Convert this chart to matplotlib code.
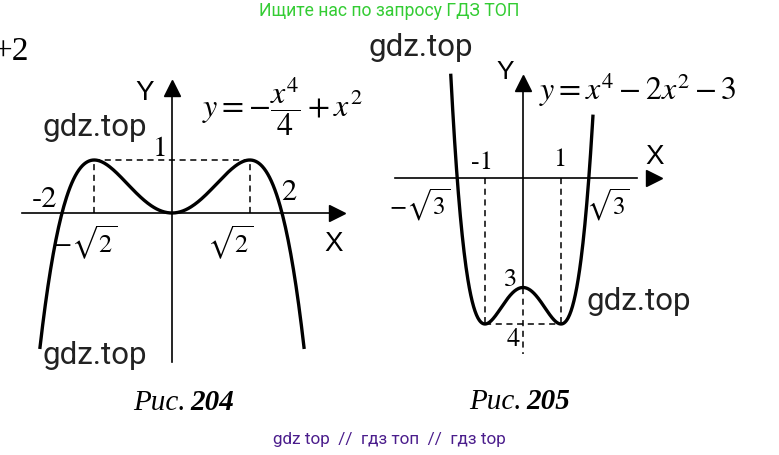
import numpy as np
import matplotlib.pyplot as plt

W, H = 779, 456

# left graph: y = a4*x^4 + a2*x^2 + a0
left_coef = (-0.25, 1.0, 0.0)
left_xrange = (-2.4, 2.4)
left_points_x = [-np.sqrt(2), np.sqrt(2)]     # maxima
left_points_y = [1, 1]

# right graph: y = x^4 - 2x^2 - 3
right_coef = (1.0, -2.0, -3.0)
right_xrange = (-1.9, 1.84)
right_points_x = [-1, 1]                       # minima
right_points_y = [-4, -4]

plt.rcParams['mathtext.fontset'] = 'stix'
fig = plt.figure(figsize=(W / 100, H / 100), dpi=100)


def panel(ox, oy, sx, sy):
    # full-figure axes whose origin sits at pixel (ox, oy)
    ax = fig.add_axes([0, 0, 1, 1])
    ax.set_xlim(-ox / sx, (W - ox) / sx)
    ax.set_ylim((oy - H) / sy, oy / sy)
    ax.axis('off')
    ax.patch.set_alpha(0)
    return ax


def quartic(coef, x):
    return coef[0] * x**4 + coef[1] * x**2 + coef[2]


serif = dict(family='STIXGeneral', color='black')
sans = dict(family='Liberation Sans', color='black')
dash = dict(color='black', lw=1.1, ls=(0, (4, 3)))

# ---- Рис. 204 ----
ax1 = panel(172, 214, 55, 53)
ax1.plot([-2.73, 2.95], [0, 0], color='black', lw=1.2)
ax1.plot([0, 0], [-2.81, 2.3], color='black', lw=1.2)
ax1.plot([3.0], [0], marker='>', ms=12, color='black')
ax1.plot([0], [2.35], marker='^', ms=12, color='black')
x = np.linspace(*left_xrange, 300)
ax1.plot(x, quartic(left_coef, x), color='black', lw=2.4)
ax1.plot([left_points_x[0], left_points_x[1]], [1, 1], **dash)
for px_, py_ in zip(left_points_x, left_points_y):
    ax1.plot([px_, px_], [0, py_], **dash)
ax1.text(-0.22, 1.22, '1', fontsize=21, ha='center', va='center', **serif)
ax1.text(-2.31, 0.26, '-2', fontsize=22, ha='center', va='center', **serif)
ax1.text(2.13, 0.40, '2', fontsize=22, ha='center', va='center', **serif)
ax1.text(-1.58, -0.55, r'$-\sqrt{2}$', fontsize=19, ha='center', va='center')
ax1.text(1.05, -0.55, r'$\sqrt{2}$', fontsize=19, ha='center', va='center')
ax1.text(2.93, -0.57, 'X', fontsize=20, ha='center', va='center', **sans)
ax1.text(-0.49, 2.28, 'Y', fontsize=20, ha='center', va='center', **sans)
ax1.text(2.0, 2.02, r'$y=-\dfrac{x^4}{4}+x^2$', fontsize=23, ha='center', va='center')

# ---- Рис. 205 ----
ax2 = panel(523, 179, 38, 36.5)
ax2.plot([-3.37, 3.0], [0, 0], color='black', lw=1.2)
ax2.plot([0, 0], [-3, 2.55], color='black', lw=1.2)
ax2.plot([0, 0], [-3, -4.82], **dash)
ax2.plot([3.45], [0], marker='>', ms=12, color='black')
ax2.plot([0], [2.6], marker='^', ms=12, color='black')
x = np.linspace(*right_xrange, 300)
ax2.plot(x, quartic(right_coef, x), color='black', lw=2.4)
ax2.plot([right_points_x[0], right_points_x[1]], right_points_y, **dash)
for px_, py_ in zip(right_points_x, right_points_y):
    ax2.plot([px_, px_], [0, py_], **dash)
ax2.text(-1.08, 0.44, '-1', fontsize=19, ha='center', va='center', **serif)
ax2.text(0.97, 0.52, '1', fontsize=19, ha='center', va='center', **serif)
ax2.text(-2.71, -0.71, r'$-\sqrt{3}$', fontsize=18, ha='center', va='center')
ax2.text(2.24, -0.71, r'$\sqrt{3}$', fontsize=18, ha='center', va='center')
ax2.text(-0.34, -2.77, '3', fontsize=19, ha='center', va='center', **serif)
ax2.text(-0.26, -4.41, '4', fontsize=19, ha='center', va='center', **serif)
ax2.text(3.47, 0.60, 'X', fontsize=20, ha='center', va='center', **sans)
ax2.text(-0.47, 2.93, 'Y', fontsize=19, ha='center', va='center', **sans)
ax2.text(3.03, 2.44, r'$y=x^4-2x^2-3$', fontsize=23, ha='center', va='center')


def ftext(px_, py_, s, **kw):
    fig.text(px_ / W, 1 - py_ / H, s, **kw)


# captions
cap = dict(family='Liberation Serif', style='italic', fontsize=21, va='center')
ftext(186, 403, 'Рис.', ha='right', **cap)
ftext(190, 403, '204', ha='left', weight='bold', **cap)
ftext(522, 402, 'Рис.', ha='right', **cap)
ftext(526, 402, '205', ha='left', weight='bold', **cap)

# scrap of the neighbouring formula
ftext(29, 52, '+2', ha='right', va='center', fontsize=24, family='Liberation Serif')

# watermarks
wm = dict(family='Roboto', fontsize=22.5, color='#222222', va='center', ha='left')
ftext(369, 48, 'gdz.top', **wm)
ftext(42, 128, 'gdz.top', **wm)
ftext(42, 355, 'gdz.top', **wm)
ftext(586, 302, 'gdz.top', **wm)

ftext(389, 11, 'Ищите нас по запросу ГДЗ ТОП', ha='center', va='center',
      fontsize=12.7, family='Roboto', color='#33cc33')
ftext(389, 440, 'gdz top  //  гдз топ  //  гдз top', ha='center', va='center',
      fontsize=12.3, family='Roboto', color='#4b1d8c')

fig.savefig('out.png', dpi=100)
